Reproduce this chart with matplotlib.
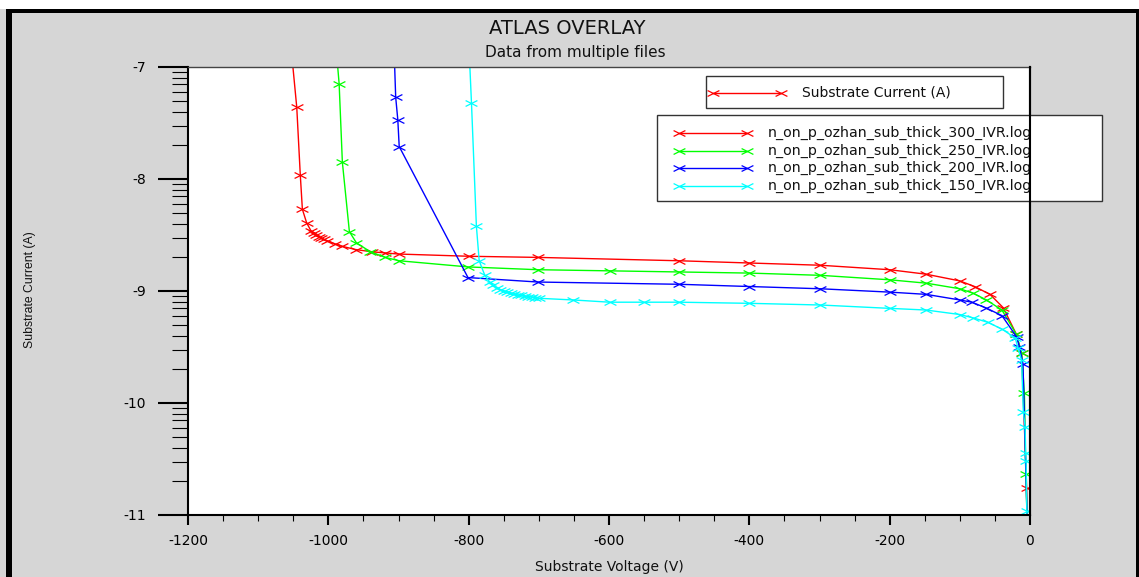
import numpy as np
import matplotlib
matplotlib.use("Agg")
import matplotlib.pyplot as plt
from matplotlib.patches import Rectangle
from matplotlib.lines import Line2D
from matplotlib.path import Path
from matplotlib.ticker import MultipleLocator, FuncFormatter, FixedLocator, NullFormatter

# ---------------- data (voltage in V, current as log10(A)) ----------------
v_300 = [-1052, -1045, -1040, -1037, -1031, -1025, -1020, -1017, -1014, -1010, -1006,
         -1002, -990, -981, -961, -938, -919, -900, -799, -701, -500, -400, -299,
         -200, -148, -100, -79, -57, -38, -20, -12, -4.7, -3]
logi_300 = [-6.9, -7.36, -7.96, -8.27, -8.39, -8.46, -8.48, -8.50, -8.515, -8.53, -8.54,
            -8.55, -8.58, -8.60, -8.63, -8.65, -8.66, -8.67, -8.69, -8.70, -8.73, -8.75, -8.77,
            -8.81, -8.85, -8.91, -8.96, -9.03, -9.15, -9.38, -9.55, -10.76, -11.3]

v_250 = [-988, -984.6, -980, -970, -960, -940, -919, -899, -801, -701, -599, -500, -400,
         -299, -200, -148, -100, -81, -62, -40, -20, -12, -8, -6, -3]
logi_250 = [-6.9, -7.15, -7.85, -8.47, -8.57, -8.65, -8.70, -8.73, -8.785, -8.81, -8.82,
            -8.83, -8.84, -8.86, -8.90, -8.93, -8.98, -9.02, -9.08, -9.17, -9.38, -9.55,
            -9.91, -10.63, -11.3]

v_200 = [-906, -904, -901, -899, -801, -701, -500, -400, -299, -200, -148, -100, -83,
         -63, -40, -19, -15, -10, -3]
logi_200 = [-6.9, -7.27, -7.47, -7.71, -8.88, -8.92, -8.94, -8.96, -8.98, -9.01, -9.03,
            -9.08, -9.10, -9.15, -9.22, -9.41, -9.50, -9.65, -11.3]

v_150 = [-799, -796, -789, -785, -777, -770, -765, -760, -755, -750, -745, -740, -735,
         -730, -725, -720, -715, -710, -705, -700, -651, -599, -550, -500, -400, -299,
         -200, -148, -100, -81, -60, -40, -21, -17, -12, -9.5, -7, -6.1, -5.5, -4.5, -3]
logi_150 = [-6.9, -7.32, -8.42, -8.73, -8.86, -8.92, -8.95, -8.97, -8.99, -9.00, -9.01,
            -9.02, -9.03, -9.035, -9.04, -9.045, -9.05, -9.055, -9.06, -9.065, -9.08,
            -9.10, -9.10, -9.10, -9.11, -9.125, -9.155, -9.17, -9.21, -9.24, -9.28, -9.34,
            -9.42, -9.51, -9.62, -10.08, -10.21, -10.45, -10.52, -10.96, -11.3]

series_labels = ["n_on_p_ozhan_sub_thick_300_IVR.log",
                 "n_on_p_ozhan_sub_thick_250_IVR.log",
                 "n_on_p_ozhan_sub_thick_200_IVR.log",
                 "n_on_p_ozhan_sub_thick_150_IVR.log"]
series_colors = ["#FF0000", "#00FF00", "#0000FF", "#00FFFF"]
quantity_label = "Substrate Current (A)"

y_decades = [-11, -10, -9, -8, -7]
x_ticks_major = 200
x_ticks_minor = 50

# ---------------- figure ----------------
W, H = 1139, 577
fig = plt.figure(figsize=(W / 100, H / 100), dpi=100, facecolor="#D6D6D6")

def fx(x):
    return x / W

def fy(y):
    return 1 - y / H

# frame decorations
fig.add_artist(Rectangle((0, fy(9)), 1, 9 / H, transform=fig.transFigure,
                         facecolor="white", edgecolor="none", zorder=-5))
fig.add_artist(Rectangle((fx(6), fy(13)), 1, 4 / H, transform=fig.transFigure,
                         facecolor="black", edgecolor="none", zorder=-4))
fig.add_artist(Rectangle((fx(6), 0), 6 / W, fy(9), transform=fig.transFigure,
                         facecolor="black", edgecolor="none", zorder=-4))
fig.add_artist(Rectangle((fx(1136), 0), 3 / W, fy(9), transform=fig.transFigure,
                         facecolor="black", edgecolor="none", zorder=-4))

ax_l, ax_r, ax_t, ax_b = 188, 1030, 67, 515
ax = fig.add_axes([fx(ax_l), fy(ax_b), (ax_r - ax_l) / W, (ax_b - ax_t) / H])
ax.set_facecolor("white")

# flattened "x" marker
xmark = Path([(-1, -0.5), (1, 0.5), (-1, 0.5), (1, -0.5)],
             [Path.MOVETO, Path.LINETO, Path.MOVETO, Path.LINETO])

all_v = [v_300, v_250, v_200, v_150]
all_i = [logi_300, logi_250, logi_200, logi_150]
for v, li, c, lab in zip(all_v, all_i, series_colors, series_labels):
    ax.plot(v, 10.0 ** np.array(li), color=c, lw=1.0, marker=xmark, ms=8.5, mew=0.9,
            label=lab)

ax.set_xlim(-1200, 0)
ax.set_yscale("log")
ax.set_ylim(10.0 ** y_decades[0], 10.0 ** y_decades[-1])

ax.xaxis.set_major_locator(MultipleLocator(x_ticks_major))
ax.xaxis.set_minor_locator(MultipleLocator(x_ticks_minor))
ax.xaxis.set_major_formatter(FuncFormatter(lambda v, p: f"{int(round(v))}"))

major_y = [10.0 ** d for d in y_decades]
minor_y = [k * 10.0 ** d for d in y_decades[:-1] for k in range(2, 10)]
ax.yaxis.set_major_locator(FixedLocator(major_y))
ax.yaxis.set_minor_locator(FixedLocator(minor_y))
ax.yaxis.set_major_formatter(FuncFormatter(lambda y, p: f"{int(round(np.log10(y)))}"))
ax.yaxis.set_minor_formatter(NullFormatter())

ax.tick_params(axis="y", which="major", direction="out", length=21.6, width=1.5,
               pad=8.6, labelsize=10)
ax.tick_params(axis="y", which="minor", direction="out", length=11.5, width=0.8)
ax.tick_params(axis="x", which="major", direction="out", length=7.2, width=1.5,
               pad=6.8, labelsize=10)
ax.tick_params(axis="x", which="minor", direction="out", length=4.3, width=0.8)
ax.tick_params(top=False, right=False, which="both", colors="black")

for s in ["left", "right", "bottom"]:
    ax.spines[s].set_color("black")
    ax.spines[s].set_linewidth(1.5)
ax.spines["top"].set_color("#444444")
ax.spines["top"].set_linewidth(1.0)

# axis labels
fig.text(fx(609), fy(567), "Substrate Voltage (V)", ha="center", va="center",
         fontsize=10, color="#111111")
fig.text(fx(30), fy(290), quantity_label, ha="center", va="center", rotation=90,
         fontsize=8.8, family=["Liberation Sans", "DejaVu Sans"], color="#111111")

# titles
fig.text(fx(567), fy(29), "ATLAS OVERLAY", ha="center", va="center", fontsize=14,
         color="#111111")
fig.text(fx(575), fy(52), "Data from multiple files", ha="center", va="center",
         fontsize=11, color="#111111")

# quantity legend box
fig.add_artist(Rectangle((fx(706), fy(108)), (1003 - 706) / W, (108 - 76) / H,
                         transform=fig.transFigure, facecolor="white",
                         edgecolor="#333333", lw=1.0, zorder=5))
fig.add_artist(Line2D([fx(713), fx(781)], [fy(93), fy(93)], transform=fig.transFigure,
                      color=series_colors[0], lw=1.0, marker=xmark, ms=8.5, mew=0.9,
                      zorder=6))
fig.text(fx(802), fy(93), quantity_label, ha="left", va="center", fontsize=10,
         color="#111111", zorder=6)

# file legend box
fig.add_artist(Rectangle((fx(657), fy(201)), (1102 - 657) / W, (201 - 115) / H,
                         transform=fig.transFigure, facecolor="white",
                         edgecolor="#333333", lw=1.0, zorder=5))
row_y = [133, 150.5, 168, 185.5]
for ry, c, lab in zip(row_y, series_colors, series_labels):
    fig.add_artist(Line2D([fx(679), fx(747)], [fy(ry), fy(ry)], transform=fig.transFigure,
                          color=c, lw=1.0, marker=xmark, ms=8.5, mew=0.9, zorder=6))
    fig.text(fx(768), fy(ry), lab, ha="left", va="center", fontsize=10.2,
             color="#111111", zorder=6)

# right spine drawn over the legend box
fig.add_artist(Line2D([fx(ax_r), fx(ax_r)], [fy(ax_t), fy(ax_b)], transform=fig.transFigure,
                      color="black", lw=1.5, zorder=7))

fig.savefig("out.png", dpi=100, facecolor=fig.get_facecolor())
